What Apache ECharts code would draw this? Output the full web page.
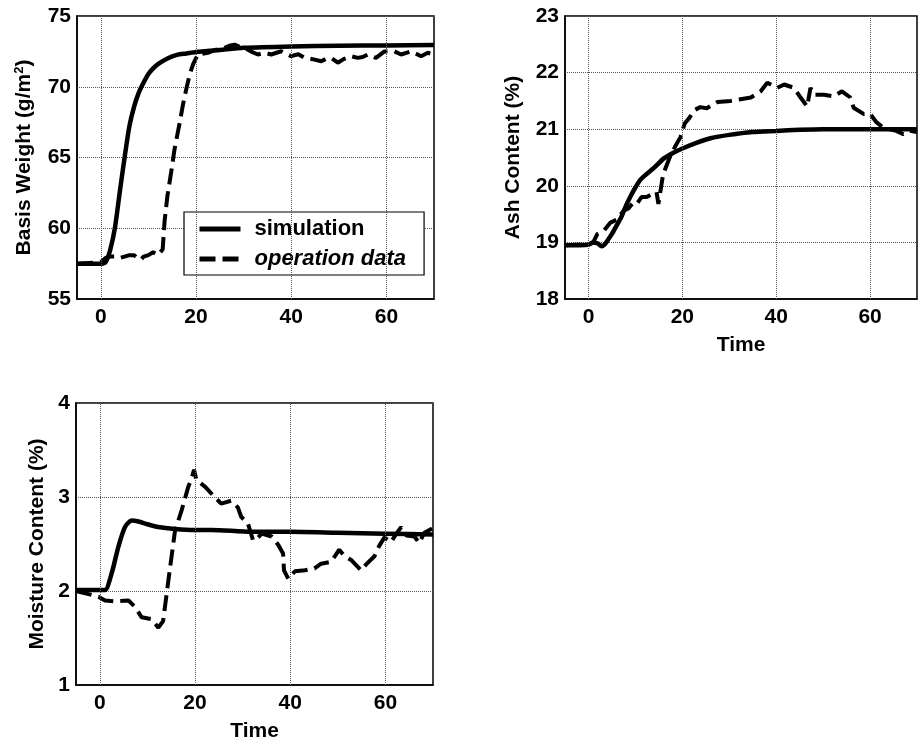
<!DOCTYPE html>
<html>
<head>
<meta charset="utf-8">
<script src="https://cdn.jsdelivr.net/npm/echarts@6/dist/echarts.min.js"></script>
<style>
  html, body { margin: 0; padding: 0; background: #fff; }
  #chart { width: 920px; height: 744px; }
</style>
</head>
<body>
<div id="chart"></div>
<script>
// Basis weight (g/m^2)
const bwSimTime = [-5, 0, 1, 2, 3, 4, 5, 6, 7, 8, 9, 10, 11, 12, 14, 16, 18, 20, 25, 30, 40, 50, 60, 70];
const bwSimValue = [57.5, 57.5, 57.6, 58.5, 60.1, 62.6, 65.0, 67.2, 68.6, 69.6, 70.3, 70.9, 71.3, 71.6, 72.0, 72.25, 72.35, 72.45, 72.6, 72.75, 72.85, 72.9, 72.92, 72.95];
const bwOpTime = [-5, 0, 1, 2, 3, 4, 5, 6, 7, 8, 8.5, 9, 10, 11, 11.5, 12, 12.5, 13, 13.4, 14, 14.8, 15.5, 16.6, 17.3, 18, 18.7, 19.4, 20.4, 22.5, 24, 26, 27, 28.1, 29, 30.2, 31.5, 33, 34.5, 35.8, 37.9, 40, 41.5, 42.8, 44.5, 46.3, 47.5, 48.4, 49.8, 51, 52.6, 54, 55, 56.1, 57.8, 59.6, 61.7, 63.1, 65.2, 67.3, 68.7, 70];
const bwOpValue = [57.5, 57.6, 57.9, 58.0, 58.0, 57.9, 58.0, 58.1, 58.1, 57.8, 57.8, 58.0, 58.1, 58.3, 58.2, 58.4, 58.3, 58.5, 60.5, 62.3, 64.0, 65.6, 67.5, 68.8, 69.9, 70.9, 71.6, 72.28, 72.4, 72.6, 72.75, 72.9, 72.98, 72.85, 72.75, 72.5, 72.28, 72.4, 72.28, 72.51, 72.16, 72.3, 72.04, 71.95, 71.8, 72.0, 72.04, 71.7, 71.95, 72.16, 72.04, 72.1, 72.28, 72.04, 72.5, 72.5, 72.28, 72.5, 72.16, 72.4, 72.28];

// Ash content (%)
const ashSimTime = [-5, 0, 1, 2, 2.8, 3.5, 4.2, 5, 6, 7, 8, 9, 10, 11, 12, 14, 16, 18, 20, 23, 26, 30, 35, 40, 45, 50, 60, 70];
const ashSimValue = [18.95, 18.96, 19.0, 18.98, 18.93, 18.97, 19.05, 19.15, 19.3, 19.45, 19.65, 19.82, 19.97, 20.1, 20.18, 20.32, 20.48, 20.58, 20.66, 20.76, 20.84, 20.9, 20.95, 20.97, 20.99, 21.0, 21.0, 21.0];
const ashOpTime = [-5, 0, 1, 1.9, 3.3, 4.7, 6, 7.5, 8.5, 9.5, 10.3, 11.3, 12.4, 13.5, 14.5, 14.9, 15.3, 15.9, 17.3, 18.5, 19.6, 20.5, 21.5, 22.4, 23.8, 25.2, 27.5, 30.3, 32.4, 34.6, 36.7, 38.1, 40.2, 41.7, 43.8, 45.2, 46.6, 47.3, 48, 50.2, 52.3, 54, 55.8, 56.5, 58.6, 60, 61.4, 62.8, 64.2, 65.6, 67.1, 68.5, 70];
const ashOpValue = [18.95, 18.97, 19.0, 19.15, 19.21, 19.35, 19.4, 19.56, 19.6, 19.7, 19.68, 19.8, 19.8, 19.85, 19.89, 19.68, 19.68, 20.2, 20.5, 20.7, 20.86, 21.1, 21.2, 21.33, 21.39, 21.37, 21.48, 21.5, 21.53, 21.56, 21.67, 21.82, 21.73, 21.79, 21.73, 21.56, 21.4, 21.73, 21.61, 21.61, 21.58, 21.67, 21.56, 21.38, 21.27, 21.27, 21.12, 21.03, 21.0, 20.97, 20.91, 20.97, 20.95];

// Moisture content (%)
const mcSimTime = [-5, 0, 1.1, 2.5, 3.9, 5.3, 6.7, 8.1, 10, 12.3, 15.8, 20, 23.4, 31.8, 40, 50, 60, 70];
const mcSimValue = [2.01, 2.01, 2.01, 2.19, 2.47, 2.68, 2.75, 2.74, 2.71, 2.68, 2.66, 2.65, 2.65, 2.63, 2.63, 2.62, 2.61, 2.6];
const mcOpTime = [-5, -0.3, 1.1, 3.2, 6.0, 7.4, 8.8, 10.9, 12.3, 13.3, 14.4, 15.8, 17.2, 18.6, 19.3, 19.8, 20.3, 22.1, 24.1, 25.5, 27.6, 29.0, 29.7, 31.1, 32.2, 32.7, 34.0, 36.1, 37.5, 38.5, 38.7, 39.6, 41, 43.1, 45.1, 46.5, 48.6, 50.3, 51.4, 52.8, 54.9, 55.9, 57.7, 58.7, 59.8, 61.2, 61.9, 63.3, 64.4, 66.1, 67.1, 68.2, 70];
const mcOpValue = [2.0, 1.94, 1.9, 1.89, 1.9, 1.83, 1.72, 1.7, 1.61, 1.68, 2.11, 2.64, 2.86, 3.11, 3.2, 3.29, 3.18, 3.11, 3.0, 2.93, 2.96, 2.89, 2.79, 2.72, 2.54, 2.54, 2.61, 2.58, 2.49, 2.4, 2.22, 2.13, 2.21, 2.22, 2.24, 2.29, 2.31, 2.44, 2.37, 2.33, 2.22, 2.28, 2.37, 2.48, 2.57, 2.52, 2.58, 2.68, 2.59, 2.58, 2.51, 2.62, 2.67];

// Axis ticks
const timeTicks = [0, 20, 40, 60];
const bwTicks = [55, 60, 65, 70, 75];
const ashTicks = [18, 19, 20, 21, 22, 23];
const mcTicks = [1, 2, 3, 4];

const seriesNames = ['simulation', 'operation data'];

const FONT = '"Liberation Sans", Arial, Helvetica, sans-serif';

function pairs(xs, ys) { return xs.map((x, i) => [x, ys[i]]); }

function xAxisFor(gridIndex, showName) {
  return {
    type: 'value', gridIndex: gridIndex,
    min: -5, max: 70, interval: 5,
    axisLine: { show: true, onZero: false, lineStyle: { color: '#000', width: 1.5 } },
    axisTick: { show: false },
    splitLine: { show: false },
    axisLabel: {
      color: '#000', fontFamily: FONT, fontWeight: 'bold', fontSize: 21, margin: 8,
      showMinLabel: true, showMaxLabel: true,
      formatter: v => (timeTicks.indexOf(v) >= 0 ? String(v) : '')
    },
    name: showName ? 'Time' : '',
    nameLocation: 'middle', nameGap: 36,
    nameTextStyle: { color: '#000', fontFamily: FONT, fontWeight: 'bold', fontSize: 21 }
  };
}

function yAxisFor(gridIndex, ticks, name, gap) {
  return {
    type: 'value', gridIndex: gridIndex,
    min: ticks[0], max: ticks[ticks.length - 1], interval: ticks[1] - ticks[0],
    axisLine: { show: true, onZero: false, lineStyle: { color: '#000', width: 1.5 } },
    axisTick: { show: false },
    splitLine: { show: true, lineStyle: { color: '#555', type: 'dotted', width: 1 } },
    axisLabel: { color: '#000', fontFamily: FONT, fontWeight: 'bold', fontSize: 21, margin: 6 },
    name: name, nameLocation: 'middle', nameRotate: 90, nameGap: gap,
    nameTextStyle: {
      color: '#000', fontFamily: FONT, fontWeight: 'bold', fontSize: 21,
      rich: { sup: { fontFamily: FONT, fontWeight: 'bold', fontSize: 13, color: '#000', padding: [0, 0, 9, 0] } }
    }
  };
}

// Vertical grid lines at the labelled time ticks
function timeGrid(idx) {
  return {
    type: 'line', xAxisIndex: idx, yAxisIndex: idx, data: [], z: 1, silent: true,
    markLine: {
      silent: true, symbol: ['none', 'none'], label: { show: false },
      lineStyle: { color: '#555', type: 'dotted', width: 1 },
      data: timeTicks.map(t => ({ xAxis: t }))
    }
  };
}

function simSeries(idx, xs, ys) {
  return {
    name: seriesNames[0], type: 'line', xAxisIndex: idx, yAxisIndex: idx, z: 3,
    symbol: 'none', smooth: 0.25, data: pairs(xs, ys),
    itemStyle: { color: '#000' },
    lineStyle: { color: '#000', width: 4.5, type: 'solid' }
  };
}

function opSeries(idx, xs, ys) {
  return {
    name: seriesNames[1], type: 'line', xAxisIndex: idx, yAxisIndex: idx, z: 3,
    symbol: 'none', data: pairs(xs, ys),
    itemStyle: { color: '#000' },
    lineStyle: { color: '#000', width: 4, type: [16, 7], cap: 'butt' }
  };
}

const chart = echarts.init(document.getElementById('chart'), null, { renderer: 'canvas' });
chart.setOption({
  animation: false,
  backgroundColor: '#fff',
  color: ['#000'],
  textStyle: { fontFamily: FONT },
  grid: [
    { left: 77, top: 16, width: 357, height: 283, show: true, borderColor: '#000', borderWidth: 1.5, backgroundColor: '#fff' },
    { left: 565, top: 16, width: 354, height: 283, show: true, borderColor: '#000', borderWidth: 1.5, backgroundColor: '#fff' },
    { left: 76, top: 403, width: 357, height: 282, show: true, borderColor: '#000', borderWidth: 1.5, backgroundColor: '#fff' }
  ],
  xAxis: [xAxisFor(0, false), xAxisFor(1, true), xAxisFor(2, true)],
  yAxis: [
    yAxisFor(0, bwTicks, 'Basis Weight (g/m{sup|2})', 42),
    yAxisFor(1, ashTicks, 'Ash Content (%)', 41),
    yAxisFor(2, mcTicks, 'Moisture Content (%)', 28)
  ],
  legend: {
    data: seriesNames,
    orient: 'vertical', left: 184, top: 212,
    backgroundColor: '#fff', borderColor: '#000', borderWidth: 1.2,
    padding: [6, 18, 5, 13], itemWidth: 41, itemHeight: 16, itemGap: 8,
    itemStyle: { opacity: 0 },
    lineStyle: { width: 5 },
    textStyle: {
      color: '#000', fontFamily: FONT, fontWeight: 'bold', fontSize: 22, padding: [0, 0, 0, 9],
      rich: { it: { color: '#000', fontFamily: FONT, fontWeight: 'bold', fontStyle: 'italic', fontSize: 22 } }
    },
    formatter: n => (n === seriesNames[1] ? '{it|' + n + '}' : n),
    selectedMode: false
  },
  series: [
    timeGrid(0), timeGrid(1), timeGrid(2),
    simSeries(0, bwSimTime, bwSimValue), opSeries(0, bwOpTime, bwOpValue),
    simSeries(1, ashSimTime, ashSimValue), opSeries(1, ashOpTime, ashOpValue),
    simSeries(2, mcSimTime, mcSimValue), opSeries(2, mcOpTime, mcOpValue)
  ]
});
</script>
</body>
</html>
